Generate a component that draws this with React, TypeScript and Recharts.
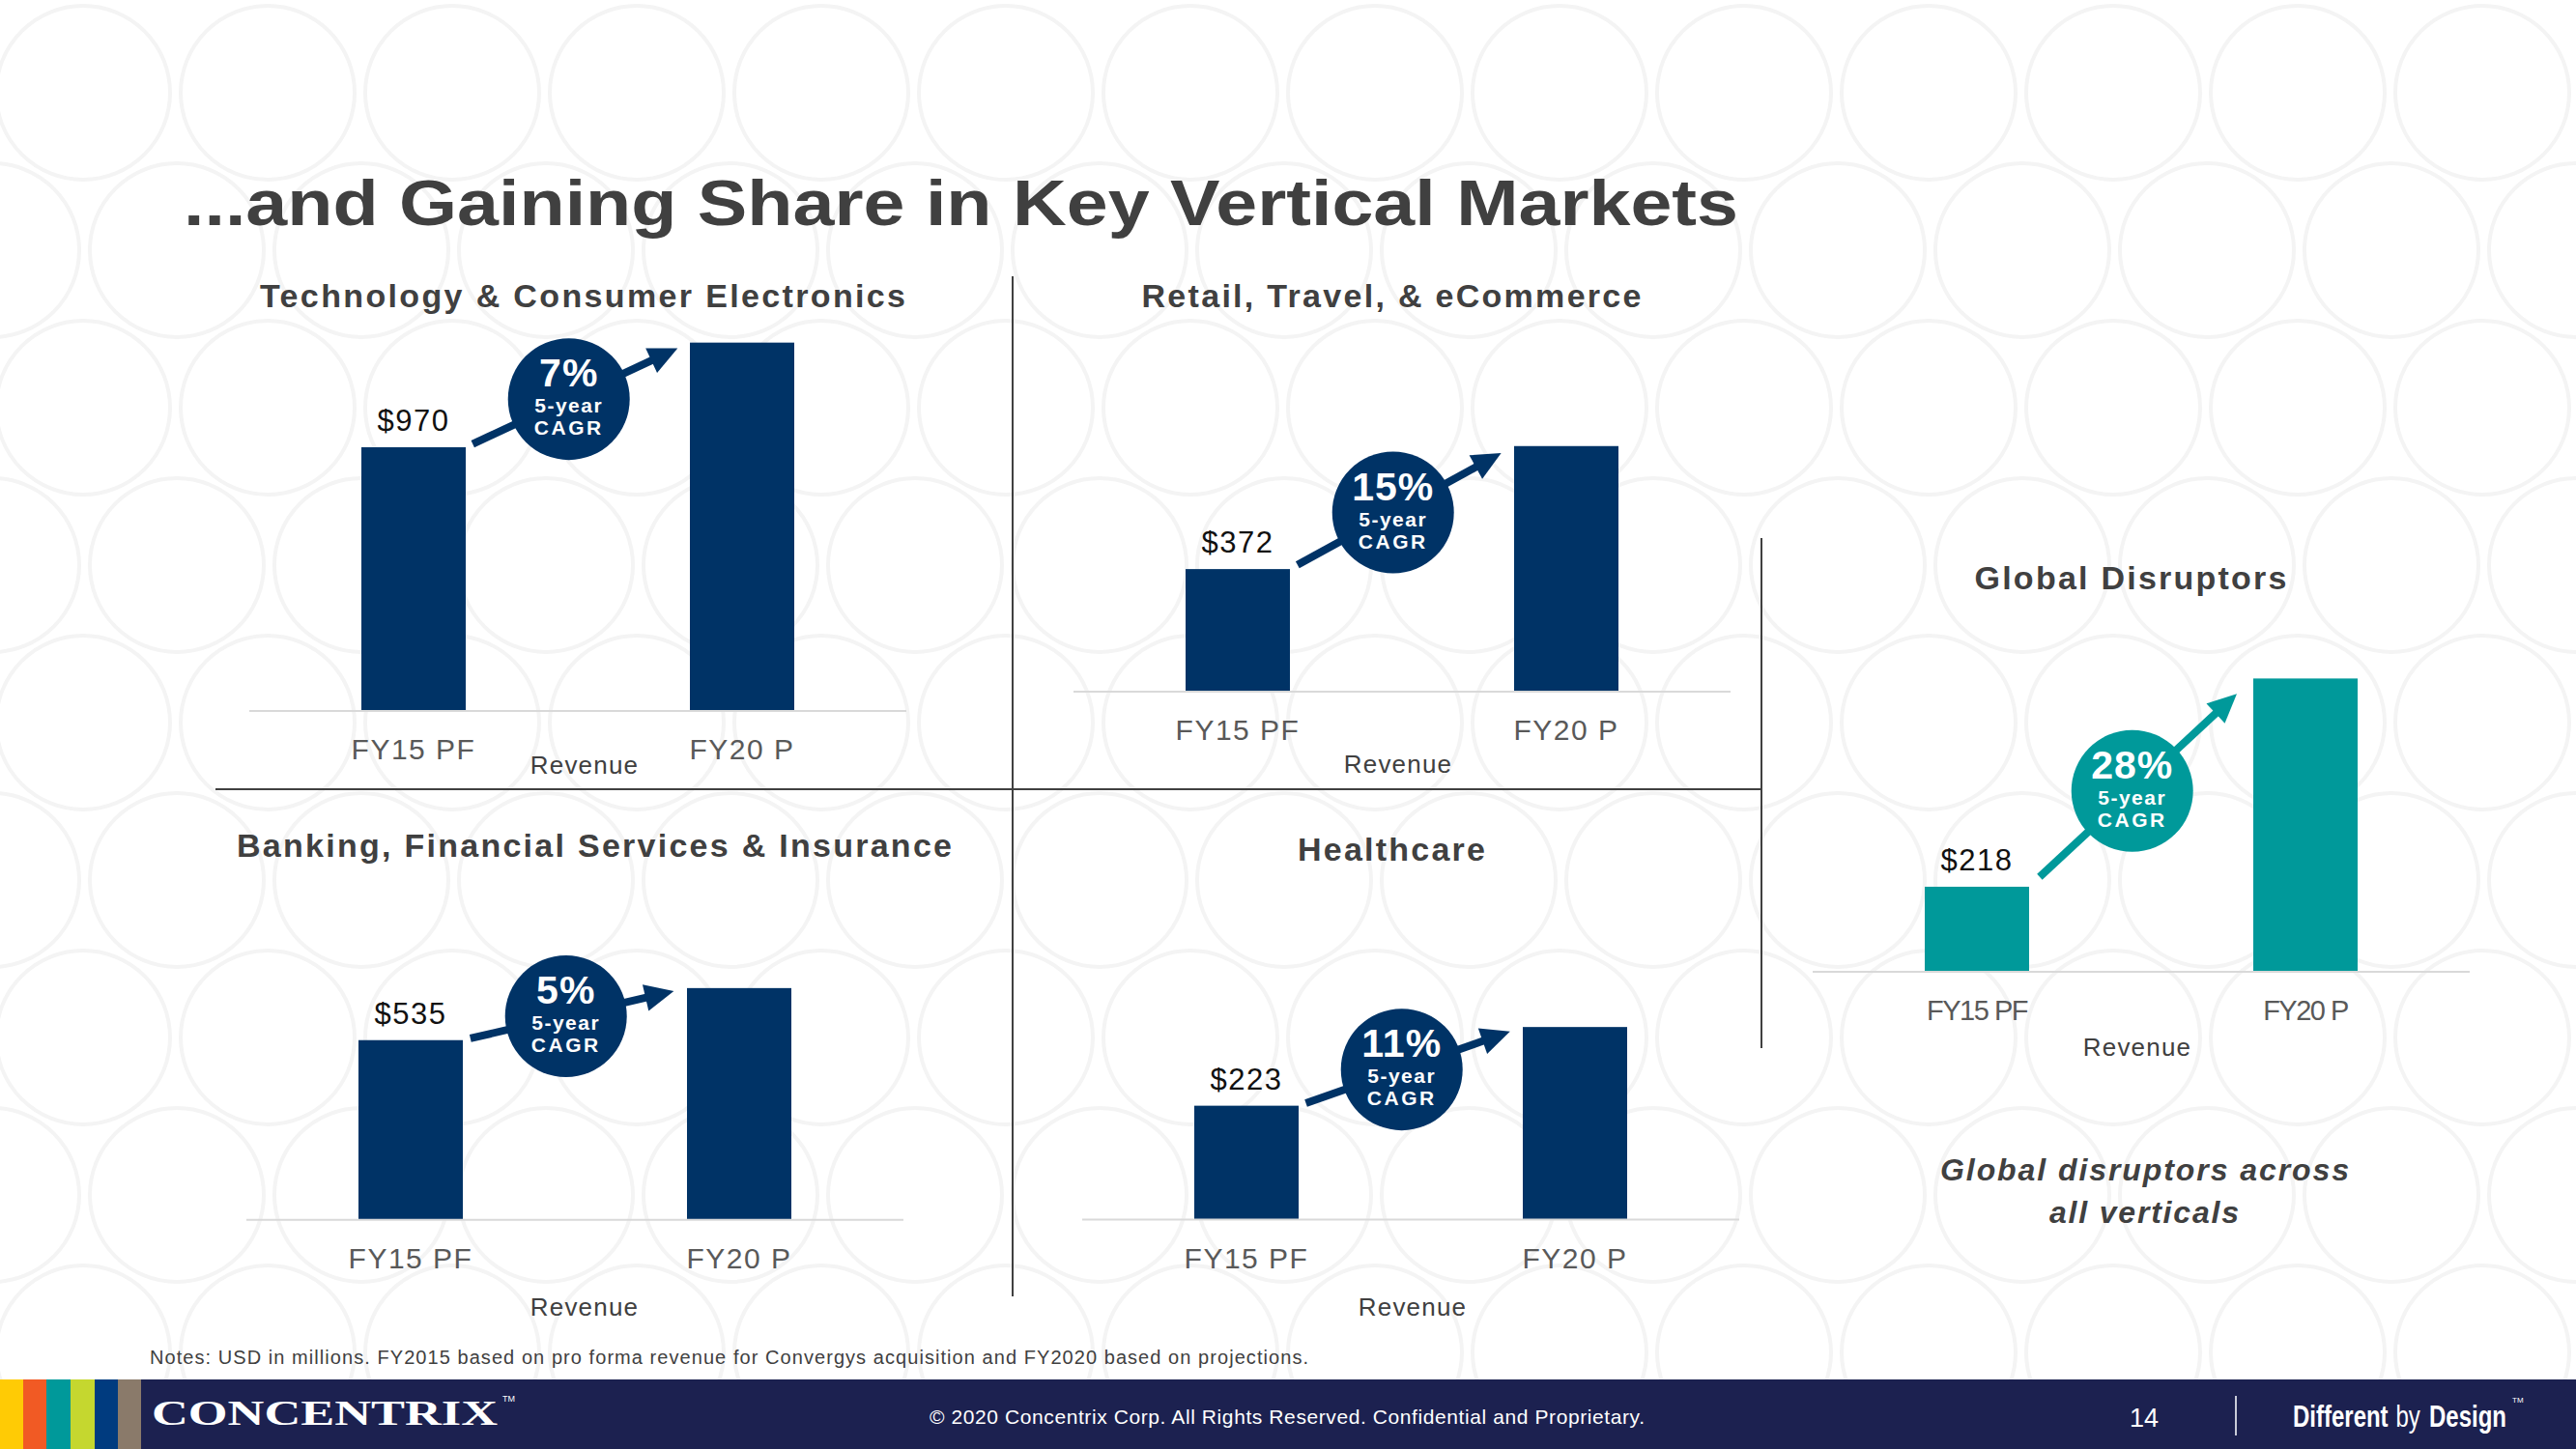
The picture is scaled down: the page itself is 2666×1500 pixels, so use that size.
import React from "react";
import { BarChart, Bar, XAxis, YAxis, ReferenceLine, ReferenceDot } from "recharts";

const categories = ["FY15 PF", "FY20 P"];
const verticals = [
  "Technology & Consumer Electronics",
  "Retail, Travel, & eCommerce",
  "Banking, Financial Services & Insurance",
  "Healthcare",
  "Global Disruptors",
];
const fy15Revenue = [970, 372, 535, 223, 218];
const fy20Revenue = [1355, 745, 690, 377, 752];
const cagrLabels = ["7%", "15%", "5%", "11%", "28%"];

const NAVY = "#003366";
const TEAL = "#00999a";
const FONT = "'Liberation Sans', Arial, Helvetica, sans-serif";

const BAND = 340;
const BAR_W = 108;
const ML = 60;
const MR = 60;
const MT = 140;
const AXIS_H = 115;

// where each little chart sits on the slide (plot left, axis line y, px per $M, y max)
const panels = [
  { left: 258, base: 736, k: 0.2814, yMax: 1400, tx: 603, tw: 668, ty: 318, rev: 65, revDx: 7, color: NAVY, narrow: false },
  { left: 1111, base: 716, k: 0.3414, yMax: 800, tx: 1440, tw: 517, ty: 318, rev: 84, revDx: -4, color: NAVY, narrow: false },
  { left: 255, base: 1263, k: 0.3477, yMax: 750, tx: 615, tw: 740, ty: 887, rev: 99, revDx: 10, color: NAVY, narrow: false },
  { left: 1120, base: 1263, k: 0.529, yMax: 400, tx: 1440, tw: 194, ty: 891, rev: 99, revDx: 2, color: NAVY, narrow: false },
  { left: 1876, base: 1006, k: 0.4037, yMax: 800, tx: 2205, tw: 323, ty: 610, rev: 87, revDx: -4, color: TEAL, narrow: true },
];

const arrowShape = (color: string) => (sp: any) => {
  const { x1, y1, x2, y2 } = sp;
  const dx = x2 - x1;
  const dy = y2 - y1;
  const len = Math.hypot(dx, dy) || 1;
  const ux = dx / len;
  const uy = dy / len;
  const nx = -uy;
  const ny = ux;
  // steeper arrows sit further away from the bars
  const steep = Math.abs(uy);
  const s0 = 8 + 30 * Math.max(0, steep - 0.45);
  const s1 = 14 + 40 * Math.max(0, steep - 0.45);
  const sx = x1 + ux * s0;
  const sy = y1 + uy * s0;
  const tx = x2 - ux * s1;
  const ty = y2 - uy * s1;
  const bx = tx - ux * 30;
  const by = ty - uy * 30;
  return (
    <g>
      <line x1={sx} y1={sy} x2={bx + ux * 2} y2={by + uy * 2} stroke={color} strokeWidth={8} />
      <polygon
        points={`${tx},${ty} ${bx + nx * 14},${by + ny * 14} ${bx - nx * 14},${by - ny * 14}`}
        fill={color}
      />
    </g>
  );
};

const bubbleShape = (color: string, cagr: string) => (sp: any) => {
  const { cx, cy } = sp;
  return (
    <g fontFamily={FONT} fontWeight="bold" fill="#fff" textAnchor="middle">
      <circle cx={cx} cy={cy} r={63} fill={color} />
      <text x={cx} y={cy - 13} fontSize={41} letterSpacing={1}>{cagr}</text>
      <text x={cx} y={cy + 14} fontSize={21} letterSpacing={1.5}>5-year</text>
      <text x={cx} y={cy + 37} fontSize={21} letterSpacing={2.5}>CAGR</text>
    </g>
  );
};

function Panel({ idx }: { idx: number }) {
  const p = panels[idx];
  const plotH = p.k * p.yMax;
  const v0 = fy15Revenue[idx];
  const v1 = fy20Revenue[idx];
  const data = categories.map((c, j) => ({ pos: j, name: c, revenue: j === 0 ? v0 : v1 }));
  const half = BAR_W / 2 / BAND;
  const a = { x: half, y: v0 };
  const b = { x: 1 - half, y: v1 };
  const t = 0.46;
  const bub = { x: a.x + (b.x - a.x) * t, y: a.y + (b.y - a.y) * t };

  const renderTick = (tp: any) => (
    <text
      x={tp.x}
      y={tp.y + 50}
      textAnchor="middle"
      fill="#595959"
      fontFamily={FONT}
      fontSize={p.narrow ? 29 : 30}
      letterSpacing={p.narrow ? -1.5 : 1.5}
    >
      {categories[tp.payload.value]}
    </text>
  );

  const renderRevenue = (lp: any) => {
    const vb = lp.viewBox || { x: 0, y: 0, width: 0 };
    return (
      <text
        x={vb.x + vb.width / 2 + p.revDx}
        y={vb.y + p.rev}
        textAnchor="middle"
        fill="#404040"
        fontFamily={FONT}
        fontSize={26}
        letterSpacing={1.2}
      >
        Revenue
      </text>
    );
  };

  const renderBar = (sp: any) => (
    <g>
      <rect x={sp.x} y={sp.y} width={sp.width} height={sp.height} fill={p.color} />
      {sp.index === 0 && (
        <text
          x={sp.x + sp.width / 2}
          y={sp.y - 17}
          textAnchor="middle"
          fill="#111"
          fontFamily={FONT}
          fontSize={31}
          letterSpacing={1.5}
        >
          {`$${sp.payload.revenue}`}
        </text>
      )}
    </g>
  );

  return (
    <div style={{ position: "absolute", left: p.left - ML, top: p.base - plotH - MT }}>
      <BarChart
        width={ML + 2 * BAND + MR}
        height={MT + plotH + AXIS_H}
        data={data}
        margin={{ top: MT, right: MR, bottom: 0, left: ML }}
      >
        <XAxis
          type="number"
          dataKey="pos"
          domain={[-0.5, 1.5]}
          ticks={[0, 1]}
          interval={0}
          height={AXIS_H}
          axisLine={{ stroke: "#d9d9d9", strokeWidth: 2 }}
          tickLine={false}
          tickSize={0}
          tickMargin={0}
          tick={renderTick}
          label={{ content: renderRevenue }}
        />
        <YAxis hide domain={[0, p.yMax]} />
        <Bar dataKey="revenue" barSize={BAR_W} fill={p.color} shape={renderBar} isAnimationActive={false} />
        <ReferenceLine segment={[a, b]} shape={arrowShape(p.color)} />
        <ReferenceDot x={bub.x} y={bub.y} r={63} shape={bubbleShape(p.color, cagrLabels[idx])} />
      </BarChart>
    </div>
  );
}

function Background() {
  const circles: React.ReactNode[] = [];
  for (let j = 0; j < 9; j++) {
    const cy = 96 + 163 * j;
    const x0 = j % 2 === 0 ? 86 : -8;
    for (let i = 0; i < 15; i++) {
      circles.push(
        <circle key={`${j}-${i}`} cx={x0 + 191 * i} cy={cy} r={90} fill="none" stroke="#f4f4f4" strokeWidth={4} />
      );
    }
  }
  return <g>{circles}</g>;
}

const stripes = ["#ffcb05", "#f15a24", "#00999a", "#c5d72f", "#003b7f", "#8a7a6a"];
const stripeEdges = [0, 24, 48, 73, 98, 122, 146];

function Slide() {
  return (
    <svg width={2666} height={1500} style={{ position: "absolute", left: 0, top: 0 }}>
      <rect x={0} y={0} width={2666} height={1500} fill="#fff" />
      <Background />
      <text x={190} y={233} fontFamily={FONT} fontWeight="bold" fontSize={67} fill="#404040" textLength={1609} lengthAdjust="spacingAndGlyphs">
        ...and Gaining Share in Key Vertical Markets
      </text>
      {panels.map((p, i) => (
        <text key={i} x={p.tx - p.tw / 2} y={p.ty} fontFamily={FONT} fontWeight="bold" fontSize={34} fill="#404040" textLength={p.tw} lengthAdjust="spacing">
          {verticals[i]}
        </text>
      ))}
      <line x1={1048} y1={286} x2={1048} y2={1342} stroke="#404040" strokeWidth={2} />
      <line x1={223} y1={817} x2={1823} y2={817} stroke="#404040" strokeWidth={2} />
      <line x1={1823} y1={557} x2={1823} y2={1085} stroke="#404040" strokeWidth={2} />
      <g fontFamily={FONT} fontWeight="bold" fontStyle="italic" fontSize={32} fill="#404040">
        <text x={2219 - 211} y={1222} textLength={423} lengthAdjust="spacing">Global disruptors across</text>
        <text x={2219 - 98} y={1266} textLength={196} lengthAdjust="spacing">all verticals</text>
      </g>
      <text x={155} y={1412} fontFamily={FONT} fontSize={20} fill="#404040" textLength={1199} lengthAdjust="spacing">
        Notes: USD in millions. FY2015 based on pro forma revenue for Convergys acquisition and FY2020 based on projections.
      </text>
      <rect x={0} y={1428} width={2666} height={72} fill="#1c2150" />
      {stripes.map((c, i) => (
        <rect key={c} x={stripeEdges[i]} y={1428} width={stripeEdges[i + 1] - stripeEdges[i]} height={72} fill={c} />
      ))}
      <text x={157} y={1475} fontFamily="'Liberation Serif', 'DejaVu Serif', serif" fontWeight="bold" fontSize={35} fill="#fff" textLength={358} lengthAdjust="spacingAndGlyphs">
        CONCENTRIX
      </text>
      <text x={520} y={1451} fontFamily={FONT} fontSize={9} fill="#fff">TM</text>
      <text x={962} y={1474} fontFamily={FONT} fontSize={21} fill="#fff" textLength={740} lengthAdjust="spacing">
        © 2020 Concentrix Corp. All Rights Reserved. Confidential and Proprietary.
      </text>
      <text x={2219} y={1477} textAnchor="middle" fontFamily={FONT} fontSize={27} fill="#fff">14</text>
      <line x1={2314} y1={1445} x2={2314} y2={1486} stroke="#c8cbd8" strokeWidth={2} />
      <g transform="translate(2373,1477) scale(0.75,1)" fontFamily={FONT} fontSize={32} fill="#fff">
        <text x={0} y={0} fontWeight="bold">Different</text>
        <text x={142} y={0}>by</text>
        <text x={188} y={0} fontWeight="bold">Design</text>
      </g>
      <text x={2600} y={1452} fontFamily={FONT} fontSize={8} fill="#fff">TM</text>
    </svg>
  );
}

export default function App() {
  return (
    <div style={{ position: "absolute", left: 0, top: 0, width: 2666, height: 1500, overflow: "hidden", background: "#fff" }}>
      <Slide />
      {panels.map((_, i) => (
        <Panel key={i} idx={i} />
      ))}
    </div>
  );
}
